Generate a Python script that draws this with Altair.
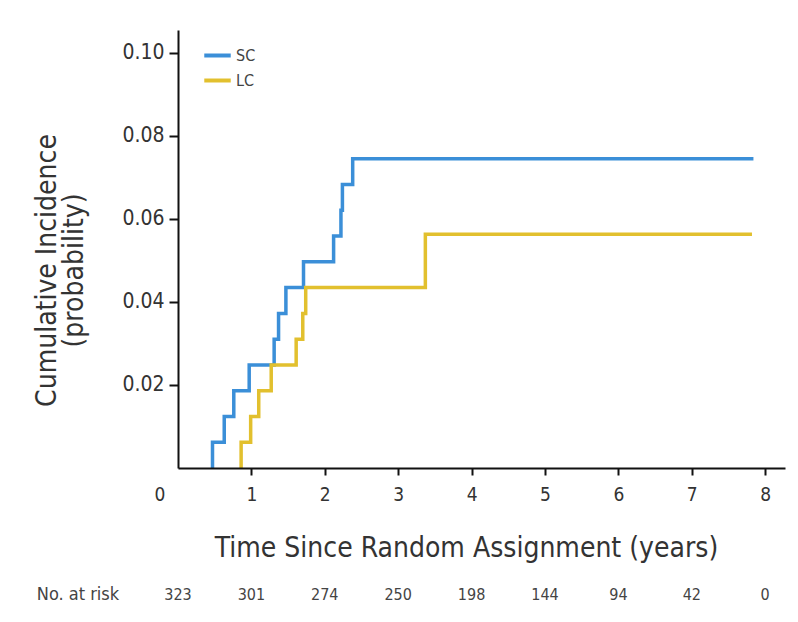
import altair as alt
import pandas as pd

# ---- data ----
sc_time = [0.47, 0.47, 0.63, 0.76, 0.97, 1.31, 1.37, 1.47, 1.71, 2.12, 2.22, 2.24, 2.38, 7.84]
sc_cum = [0, 0.0062, 0.0124, 0.0186, 0.0248, 0.0310, 0.0372, 0.0435, 0.0497, 0.0559, 0.0621, 0.0683, 0.0745, 0.0745]

lc_time = [0.86, 0.86, 0.99, 1.10, 1.27, 1.61, 1.70, 1.74, 3.37, 7.82]
lc_cum = [0, 0.0062, 0.0124, 0.0186, 0.0248, 0.0310, 0.0372, 0.0435, 0.0563, 0.0563]

arms = ["SC", "LC"]
arm_colors = ["#3b8fd8", "#e2c02e"]

risk_time = [0, 1, 2, 3, 4, 5, 6, 7, 8]
risk_n = ["323", "301", "274", "250", "198", "144", "94", "42", "0"]
risk_label = ["No. at risk"]

x_ticks = [0, 1, 2, 3, 4, 5, 6, 7, 8]
y_ticks = [0.02, 0.04, 0.06, 0.08, 0.10]

FONT = "DejaVu Sans Condensed, Liberation Sans, sans-serif"
TXT = "#333333"

curves = pd.DataFrame({
    "time": sc_time + lc_time,
    "cum": sc_cum + lc_cum,
    "arm": ["SC"] * len(sc_time) + ["LC"] * len(lc_time),
})
risk = pd.DataFrame({"time": risk_time, "n": risk_n})
risk_lab = pd.DataFrame({"label": risk_label})

x_enc = alt.X(
    "time:Q",
    scale=alt.Scale(domain=[0, 8.27], nice=False, zero=True),
    axis=alt.Axis(
        values=x_ticks,
        format="d",
        title="Time Since Random Assignment (years)",
        titleFont=FONT,
        titleFontSize=28,
        titleFontWeight="normal",
        titleColor=TXT,
        titleX=288,
        titleY=80,
        titleBaseline="middle",
        labelFont=FONT,
        labelFontSize=19,
        labelColor=TXT,
        labelPadding=10,
        labelOffset={"condition": {"test": "datum.value === 0", "value": -24}, "value": 0},
        tickOpacity={"condition": {"test": "datum.value === 0", "value": 0}, "value": 1},
        tickSize=7,
        tickWidth=2,
        tickColor="#111111",
        domainColor="#111111",
        domainWidth=2,
        grid=False,
        zindex=1,
    ),
)

y_enc = alt.Y(
    "cum:Q",
    scale=alt.Scale(domain=[0, 0.1055], nice=False, zero=True),
    axis=alt.Axis(
        values=y_ticks,
        format=".2f",
        title=["Cumulative Incidence", "(probability)"],
        titleFont=FONT,
        titleFontSize=28,
        titleFontWeight="normal",
        titleColor=TXT,
        titleLineHeight=27,
        titleX=-131,
        titleY=240,
        titleAngle=-90,
        titleAlign="center",
        titleBaseline="middle",
        labelFont=FONT,
        labelFontSize=21,
        labelColor=TXT,
        labelPadding=5,
        tickSize=9,
        tickWidth=2,
        tickColor="#111111",
        domainColor="#111111",
        domainWidth=2,
        grid=False,
        zindex=1,
    ),
)

lines = alt.Chart(curves).mark_line(interpolate="step-after", strokeWidth=3.5).encode(
    x=x_enc,
    y=y_enc,
    color=alt.Color(
        "arm:N",
        scale=alt.Scale(domain=arms, range=arm_colors),
        legend=alt.Legend(
            title=None,
            orient="none",
            legendX=24,
            legendY=10,
            symbolType="stroke",
            symbolStrokeWidth=4,
            symbolSize=700,
            labelFont=FONT,
            labelFontSize=16,
            labelColor="#444444",
            labelOffset=3,
            rowPadding=1,
            padding=0,
        ),
    ),
    detail="arm:N",
)

risk_text = alt.Chart(risk).mark_text(
    font=FONT, fontSize=16, color="#444444", align="center", baseline="middle"
).encode(
    x=alt.X("time:Q"),
    y=alt.value(565),
    text="n:N",
)

risk_title = alt.Chart(risk_lab).mark_text(
    font=FONT, fontSize=18, color="#444444", align="center", baseline="middle"
).encode(
    x=alt.value(-100),
    y=alt.value(565),
    text="label:N",
)

chart = alt.layer(lines, risk_text, risk_title).properties(
    width=607,
    height=438,
    autosize=alt.AutoSizeParams(type="none"),
    padding={"left": 170, "top": 22, "right": 5, "bottom": 146},
    background="#ffffff",
).configure_view(stroke=None)

chart.save("out.html", embed_options={"renderer": "svg", "actions": False})
